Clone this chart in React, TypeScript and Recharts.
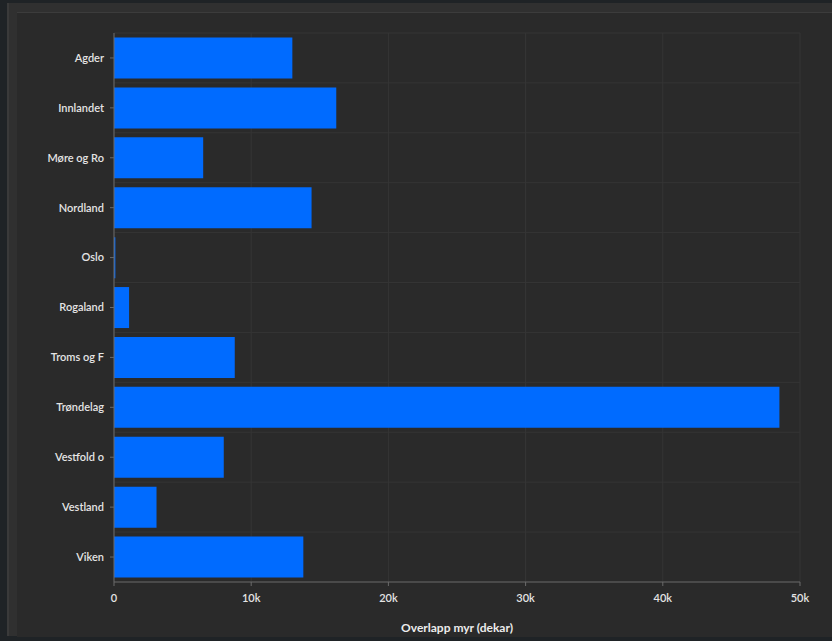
import { BarChart, Bar, XAxis, YAxis, CartesianGrid } from 'recharts'

const regions = [
  'Agder',
  'Innlandet',
  'Møre og Ro',
  'Nordland',
  'Oslo',
  'Rogaland',
  'Troms og F',
  'Trøndelag',
  'Vestfold o',
  'Vestland',
  'Viken',
]
const overlap = [13000, 16200, 6500, 14400, 100, 1100, 8800, 48500, 8000, 3100, 13800]
const xTicks = [0, 10000, 20000, 30000, 40000, 50000]

const data = regions.map((name, i) => ({ name, value: overlap[i] }))

const tickStyle = { fill: '#e4e4e4', fontSize: 11, fontWeight: 600, fontFamily: 'Lato, "Noto Sans", sans-serif' }

const fmt = (v: number) => (v === 0 ? '0' : `${v / 1000}k`)

export default function App() {
  // grid rows sit on the band edges, not the band centres
  const rowLines = ({ offset }: any) => {
    const step = offset.height / regions.length
    return regions.map((_, i) => offset.top + i * step)
  }

  return (
    <div style={{ position: 'absolute', left: 0, top: 0, width: 832, height: 641, background: '#1f2326', overflow: 'hidden' }}>
      <div style={{ position: 'absolute', left: 7, top: 3, right: 0, bottom: 5, background: '#303030', borderLeft: '2px solid #3a3a3a' }} />
      <div style={{ position: 'absolute', left: 17, top: 12, width: 815, height: 624, background: '#2a2a2a', borderTop: '1px solid #3c3c3c' }}>
        <BarChart
          width={815}
          height={624}
          data={data}
          layout="vertical"
          margin={{ top: 20, right: 32, left: 0, bottom: 0 }}
          barCategoryGap="9%"
        >
          <CartesianGrid stroke="#353535" horizontalCoordinatesGenerator={rowLines} />
          <XAxis
            type="number"
            domain={[0, 50000]}
            ticks={xTicks}
            tickFormatter={fmt}
            height={55}
            stroke="#6a6a6a"
            tickSize={4}
            tickMargin={8}
            tick={tickStyle}
            label={{
              value: 'Overlapp myr (dekar)',
              position: 'insideBottom',
              offset: 5,
              fill: '#ececec',
              fontSize: 12,
              fontWeight: 700,
              fontFamily: 'Lato, "Noto Sans", sans-serif',
            }}
          />
          <YAxis
            type="category"
            dataKey="name"
            width={97}
            stroke="#6a6a6a"
            tickSize={4}
            tickMargin={6}
            tick={tickStyle}
            interval={0}
          />
          <Bar dataKey="value" fill="#006bff" isAnimationActive={false} />
        </BarChart>
      </div>
    </div>
  )
}
